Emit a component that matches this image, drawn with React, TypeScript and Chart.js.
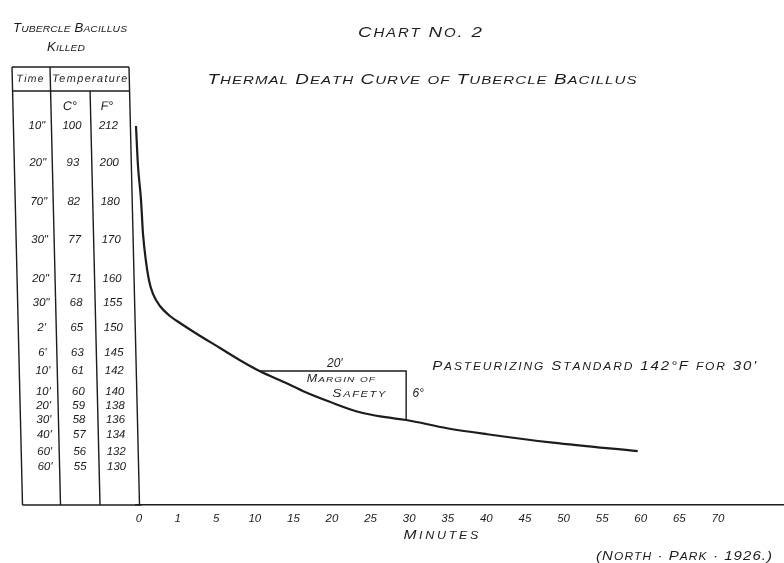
import React, { useEffect, useRef } from "react";
import { Chart, registerables } from "chart.js";

Chart.register(...registerables);

// ---------- data ----------
// x axis: hand-ruled, evenly spaced labels (non-linear in minutes)
const X_TICK_MINUTES = [0, 1, 5, 10, 15, 20, 25, 30, 35, 40, 45, 50, 55, 60, 65, 70];
const X_TICK_LABELS = ["0", "1", "5", "10", "15", "20", "25", "30", "35", "40", "45", "50", "55", "60", "65", "70"];

// table "Tubercle Bacillus Killed"
const TABLE_TIME = ['10"', '20"', '70"', '30"', '20"', '30"', "2'", "6'", "10'", "10'", "20'", "30'", "40'", "60'", "60'"];
const TABLE_C = [100, 93, 82, 77, 71, 68, 65, 63, 61, 60, 59, 58, 57, 56, 55];
const TABLE_F = [212, 200, 180, 170, 160, 155, 150, 145, 142, 140, 138, 136, 134, 132, 130];
// where each tabulated temperature sits on the chart's hand-ruled temperature scale
const TABLE_F_AXIS_POS = [37.9, 34.2, 30.3, 26.5, 22.6, 20.2, 17.7, 15.2, 13.4, 11.3, 9.9, 8.5, 7.0, 5.3, 3.8];

// thermal death curve (minutes, °F)
const CURVE_MINUTES = [0, 0.05, 0.13, 0.18, 0.26, 0.34, 0.44, 0.62, 0.88, 1.56, 3.32, 5.88, 8.47, 11, 14.3, 16.9, 20.1, 24.0, 27.3, 30, 35.3, 40.5, 49.0, 60];
const CURVE_TEMP_F = [212, 199, 181, 171.8, 164.4, 159.6, 156.9, 154.4, 152.4, 151, 148.8, 146, 143.8, 142, 140.9, 140, 138.6, 137.1, 136.4, 136, 134.9, 134.1, 133.1, 132.1];

// margin of safety (pasteurizing standard 142°F for 30')
const MARGIN_MINUTES = [11, 30, 30];
const MARGIN_TEMP_F = [142, 142, 136];

const Y_AXIS_MAX = 43.8;
const X_AXIS_MAX = 16.79;

// ---------- helpers ----------
function interp(v: number, xs: number[], ys: number[]): number {
  const n = xs.length;
  for (let i = 0; i < n - 1; i++) {
    const a = xs[i], b = xs[i + 1];
    if (v >= Math.min(a, b) && v <= Math.max(a, b)) {
      const t = b === a ? 0 : (v - a) / (b - a);
      return ys[i] + t * (ys[i + 1] - ys[i]);
    }
  }
  const inc = xs[n - 1] > xs[0];
  if ((v < xs[0]) === inc) {
    const t = (v - xs[0]) / (xs[1] - xs[0]);
    return ys[0] + t * (ys[1] - ys[0]);
  }
  const t = (v - xs[n - 2]) / (xs[n - 1] - xs[n - 2]);
  return ys[n - 2] + t * (ys[n - 1] - ys[n - 2]);
}
const TICK_INDEX = X_TICK_MINUTES.map((_, i) => i);
const minuteToPos = (m: number) => interp(m, X_TICK_MINUTES, TICK_INDEX);
const tempToPos = (f: number) => interp(f, TABLE_F, TABLE_F_AXIS_POS);

const INK = "#1c1c1c";
const FAMILY = "'Liberation Sans', 'DejaVu Sans', sans-serif";
const fontStr = (size: number) => `italic 400 ${size}px ${FAMILY}`;

// plain italic text
function drawText(
  ctx: CanvasRenderingContext2D,
  text: string,
  x: number,
  y: number,
  size: number,
  opts: { width?: number; align?: "center" | "left" } = {}
) {
  ctx.save();
  ctx.font = fontStr(size);
  ctx.fillStyle = INK;
  ctx.textBaseline = "middle";
  ctx.textAlign = "left";
  const w0 = ctx.measureText(text).width;
  let w = w0;
  if (opts.width && text.length > 1) {
    (ctx as any).letterSpacing = `${(opts.width - w0) / (text.length - 1)}px`;
    w = opts.width;
  }
  const left = opts.align === "left" ? x : x - w / 2;
  ctx.fillText(text, left, y);
  (ctx as any).letterSpacing = "0px";
  ctx.restore();
}

// hand-lettered capitals: capitals full size, other letters as smaller capitals
function drawCaps(
  ctx: CanvasRenderingContext2D,
  text: string,
  x: number,
  y: number,
  size: number,
  opts: { width?: number; align?: "center" | "left"; ratio?: number; stretch?: number } = {}
) {
  const small = size * (opts.ratio ?? 0.8);
  const stretch = opts.stretch ?? 1.2;
  const glyphs = Array.from(text).map((ch) => {
    const lower = ch !== ch.toUpperCase();
    return { ch: lower ? ch.toUpperCase() : ch, size: lower ? small : size };
  });
  ctx.save();
  ctx.fillStyle = INK;
  ctx.textBaseline = "alphabetic";
  ctx.textAlign = "left";
  const widths = glyphs.map((g) => {
    ctx.font = fontStr(g.size);
    return ctx.measureText(g.ch).width * stretch;
  });
  const natural = widths.reduce((a, b) => a + b, 0);
  const total = opts.width ?? natural;
  const gap = opts.width && glyphs.length > 1 ? (opts.width - natural) / (glyphs.length - 1) : 0;
  let cx = opts.align === "left" ? x : x - total / 2;
  const baseline = y + size * 0.36;
  glyphs.forEach((g, i) => {
    ctx.font = fontStr(g.size);
    ctx.save();
    ctx.translate(cx, baseline);
    ctx.scale(stretch, 1);
    ctx.fillText(g.ch, 0, 0);
    ctx.restore();
    cx += widths[i] + gap;
  });
  ctx.restore();
}

const handPlugin = {
  id: "handDrawnChart",
  beforeDraw(chart: any) {
    const { ctx, width, height } = chart;
    ctx.save();
    ctx.fillStyle = "#ffffff";
    ctx.fillRect(0, 0, width, height);
    ctx.restore();
  },
  afterDraw(chart: any) {
    const { ctx, chartArea } = chart;
    const xs = chart.scales.x;
    const ys = chart.scales.y;
    const px = (m: number) => xs.getPixelForValue(minuteToPos(m));
    const py = (f: number) => ys.getPixelForValue(tempToPos(f));

    // ----- table (slightly skewed like the scan) -----
    const top = chartArea.top;
    const bottom = chartArea.bottom;
    const k = 0.024;
    ctx.save();
    ctx.translate(0, top);
    ctx.transform(1, 0, k, 1, 0, 0);
    ctx.translate(0, -top);
    ctx.strokeStyle = INK;
    ctx.lineWidth = 1.4;
    const L = 12, D1 = 50, D2 = 89.5, R = 129, HEAD = top + 24;
    const line = (x1: number, y1: number, x2: number, y2: number) => {
      ctx.beginPath();
      ctx.moveTo(x1, y1);
      ctx.lineTo(x2, y2);
      ctx.stroke();
    };
    line(L, top, R, top);
    line(L, HEAD, R, HEAD);
    line(L, top, L, bottom);
    line(D1, top, D1, bottom);
    line(D2, HEAD, D2, bottom);
    line(R, top, R, bottom);
    line(L, bottom, R + 2, bottom);

    drawText(ctx, "Time", 29.7, top + 12, 10.5, { width: 27 });
    drawText(ctx, "Temperature", 89.5, top + 12, 11, { width: 75 });
    drawText(ctx, "C°", 69, top + 40, 12.5);
    drawText(ctx, "F°", 106, top + 40, 12.5);
    for (let i = 0; i < TABLE_F.length; i++) {
      const y = ys.getPixelForValue(TABLE_F_AXIS_POS[i]);
      drawText(ctx, TABLE_TIME[i], 35.5, y, 11.5);
      drawText(ctx, String(TABLE_C[i]), 70.5, y, 11.5);
      drawText(ctx, String(TABLE_F[i]), 107, y, 11.5);
    }
    ctx.restore();

    // ----- headings -----
    drawCaps(ctx, "Tubercle Bacillus", 70, 28, 12, { width: 114, ratio: 0.78, stretch: 1.1 });
    drawCaps(ctx, "Killed", 66, 47, 12, { width: 38, ratio: 0.78, stretch: 1.1 });
    drawCaps(ctx, "Chart No. 2", 420, 32, 15, { width: 124, stretch: 1.25 });
    drawCaps(ctx, "Thermal Death Curve of Tubercle Bacillus", 422, 79, 14.5, { width: 429, stretch: 1.3 });

    // ----- margin of safety annotations -----
    const y142 = py(142);
    const xMid = (px(MARGIN_MINUTES[0]) + px(MARGIN_MINUTES[1])) / 2;
    drawText(ctx, "20'", xMid + 2, y142 - 7, 12);
    drawCaps(ctx, "Margin of", xMid + 8, y142 + 7, 10, { width: 68, stretch: 1.25 });
    drawCaps(ctx, "Safety", xMid + 26, y142 + 22, 11, { width: 53, stretch: 1.25 });
    drawText(ctx, "6°", px(30) + 12, py(139) - 5, 12);
    drawCaps(ctx, "Pasteurizing Standard 142°F for 30'", px(30) + 26, y142 - 6, 12.5, {
      width: 324,
      align: "left",
      stretch: 1.2,
    });

    // ----- axis title & credit -----
    drawCaps(ctx, "Minutes", px(34.5), 534, 13, { width: 75, stretch: 1.2 });
    drawCaps(ctx, "(North · Park · 1926.)", px(66), 555, 13, { width: 176, stretch: 1.15 });
  },
};

export default function App() {
  const ref = useRef<HTMLCanvasElement | null>(null);
  useEffect(() => {
    document.body.style.margin = "0";
    const canvas = ref.current;
    if (!canvas) return;
    const curve = CURVE_MINUTES.map((m, i) => ({ x: minuteToPos(m), y: tempToPos(CURVE_TEMP_F[i]) }));
    const margin = MARGIN_MINUTES.map((m, i) => ({ x: minuteToPos(m), y: tempToPos(MARGIN_TEMP_F[i]) }));
    const chart = new Chart(canvas, {
      type: "scatter",
      data: {
        datasets: [
          {
            label: "Thermal death curve",
            data: curve,
            showLine: true,
            borderColor: INK,
            backgroundColor: INK,
            borderWidth: 2.2,
            pointRadius: 0,
            cubicInterpolationMode: "monotone",
            fill: false,
            clip: false,
          } as any,
          {
            label: "Margin of safety",
            data: margin,
            showLine: true,
            borderColor: INK,
            backgroundColor: INK,
            borderWidth: 1.4,
            pointRadius: 0,
            tension: 0,
            fill: false,
          } as any,
        ],
      },
      options: {
        animation: false,
        responsive: true,
        maintainAspectRatio: false,
        events: [],
        layout: { padding: { left: 136, top: 67, right: 0, bottom: 0 } },
        plugins: {
          legend: { display: false },
          tooltip: { enabled: false },
          title: { display: false },
        },
        scales: {
          x: {
            type: "linear",
            min: 0,
            max: X_AXIS_MAX,
            afterBuildTicks: (scale: any) => {
              scale.ticks = X_TICK_LABELS.map((_, i) => ({ value: i }));
            },
            afterFit: (scale: any) => {
              scale.height = 58;
            },
            ticks: {
              autoSkip: false,
              maxRotation: 0,
              labelOffset: 3,
              padding: 7,
              color: INK,
              font: { family: FAMILY, size: 11.5, style: "italic" },
              callback: (v: any) => X_TICK_LABELS[Math.round(Number(v))] ?? "",
            },
            grid: { display: false, drawTicks: false },
            border: { display: true, color: INK, width: 1.6 },
          },
          y: {
            type: "linear",
            min: 0,
            max: Y_AXIS_MAX,
            display: false,
          },
        },
      } as any,
      plugins: [handPlugin],
    });
    return () => chart.destroy();
  }, []);
  return (
    <div style={{ position: "absolute", left: 0, top: 0, width: 784, height: 563, background: "#fff" }}>
      <canvas ref={ref} />
    </div>
  );
}
